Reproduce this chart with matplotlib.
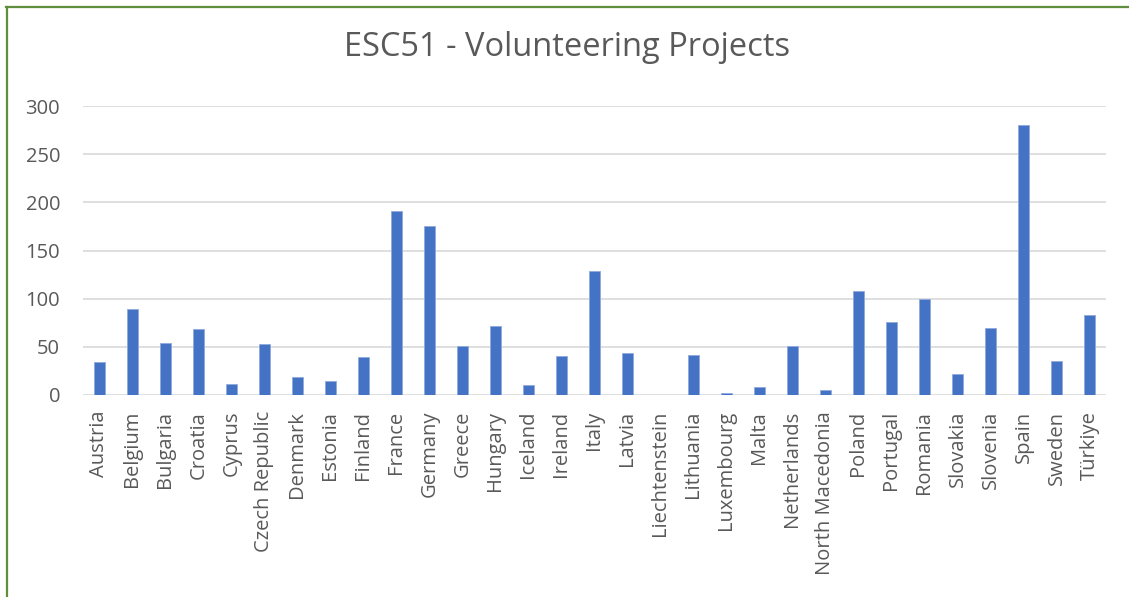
import matplotlib
matplotlib.use('Agg')
import matplotlib.pyplot as plt
from matplotlib.lines import Line2D

countries = ['Austria', 'Belgium', 'Bulgaria', 'Croatia', 'Cyprus', 'Czech Republic',
             'Denmark', 'Estonia', 'Finland', 'France', 'Germany', 'Greece', 'Hungary',
             'Iceland', 'Ireland', 'Italy', 'Latvia', 'Liechtenstein', 'Lithuania',
             'Luxembourg', 'Malta', 'Netherlands', 'North Macedonia', 'Poland',
             'Portugal', 'Romania', 'Slovakia', 'Slovenia', 'Spain', 'Sweden', 'Türkiye']
projects = [34, 89, 54, 68, 11, 53, 19, 14, 39, 191, 175, 51, 72, 10, 40, 129, 44, 0,
            41, 2, 8, 51, 5, 108, 76, 100, 22, 70, 280, 35, 83]
yticks = [0, 50, 100, 150, 200, 250, 300]

text_color = '#595959'
plt.rcParams['font.family'] = ['Open Sans', 'DejaVu Sans']

fig = plt.figure(figsize=(11.29, 5.97), dpi=100)
ax = fig.add_axes([0.0735, 0.3384, 0.9061, 0.484])

x = range(len(countries))
ax.bar(x, projects, width=0.31, color='#4472C4', edgecolor='#8FAADC', linewidth=0.6, zorder=3)

ax.set_xlim(-0.5, len(countries) - 0.5)
ax.set_ylim(0, 300)
ax.set_yticks(yticks)
ax.set_xticks(list(x))
ax.set_xticklabels(countries, rotation=90, fontsize=14.5, color=text_color)
ax.tick_params(axis='y', labelsize=14.5, labelcolor=text_color, length=0, pad=16.5)
ax.tick_params(axis='x', length=0, pad=11.5)
ax.grid(axis='y', color='#D9D9D9', linewidth=1.2, zorder=0)
for s in ax.spines.values():
    s.set_visible(False)

fig.text(0.502, 1 - 56 / 597, 'ESC51 - Volunteering Projects', ha='center', va='baseline',
         fontsize=23.5, color=text_color)

# green chart frame (cropped at right and bottom)
green = '#5E8E3E'
fig.add_artist(Line2D([6 / 1129, 1], [1 - 7 / 597, 1 - 7 / 597], color=green, linewidth=1.6,
                      transform=fig.transFigure))
fig.add_artist(Line2D([6.5 / 1129, 6.5 / 1129], [0, 1 - 7 / 597], color=green, linewidth=1.6,
                      transform=fig.transFigure))

fig.savefig('out.png', dpi=100)
